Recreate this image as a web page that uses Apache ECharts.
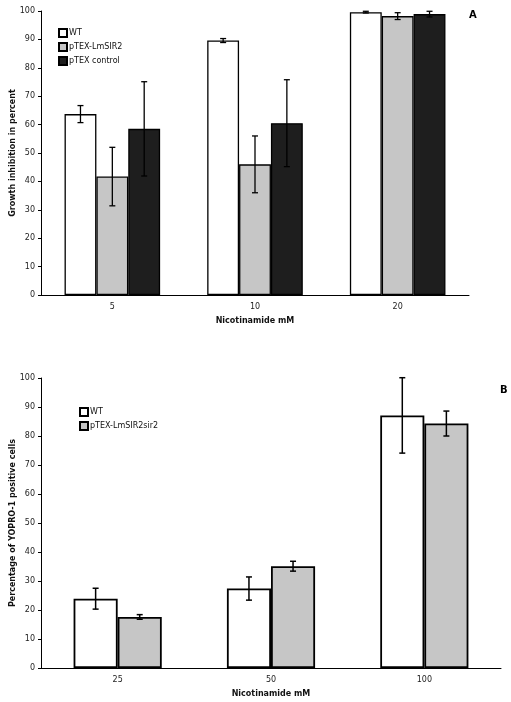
<!DOCTYPE html>
<html><head><meta charset="utf-8">
<script src="https://cdn.jsdelivr.net/npm/echarts@6/dist/echarts.min.js"></script>
<style>html,body{margin:0;padding:0;background:#fff}#c{width:511px;height:702px}</style>
</head><body><div id="c"></div>
<script>
// Panel A
const catsA = ['5', '10', '20'];
const seriesNamesA = ['WT', 'pTEX-LmSIR2', 'pTEX control'];
const wtA = [63.7, 89.6, 99.6];
const wtErrA = [3.0, 0.7, 0.3];
const sir2A = [41.7, 46.0, 98.2];
const sir2ErrA = [10.3, 10.0, 1.2];
const ctrlA = [58.5, 60.5, 98.9];
const ctrlErrA = [16.6, 15.3, 1.0];
// Panel B
const catsB = ['25', '50', '100'];
const seriesNamesB = ['WT', 'pTEX-LmSIR2sir2'];
const wtB = [23.9, 27.4, 87.1];
const wtErrB = [3.6, 4.0, 13.0];
const sir2B = [17.6, 35.1, 84.3];
const sir2ErrB = [0.8, 1.7, 4.3];
const yTicks = [0, 10, 20, 30, 40, 50, 60, 70, 80, 90, 100];

const FONT = 'DejaVu Sans';
const fills = ['#ffffff', '#c6c6c6', '#1e1e1e'];

function errSeries(vals, errs, idx, n, gap, axisIdx, lw) {
  return {
    type: 'custom', xAxisIndex: axisIdx, yAxisIndex: axisIdx, z: 10, silent: true,
    data: vals.map((v, i) => [i, v - errs[i], v + errs[i]]),
    encode: { x: 0, y: [1, 2] },
    renderItem: function (params, api) {
      const xi = api.value(0);
      const lo = api.coord([xi, api.value(1)]);
      const hi = api.coord([xi, api.value(2)]);
      const cw = api.size([1, 0])[0];
      const bw = cw * (1 - gap) / n;
      const cx = lo[0] + (idx - (n - 1) / 2) * bw;
      const cap = 3;
      const st = { stroke: '#000', lineWidth: lw };
      return { type: 'group', children: [
        { type: 'line', shape: { x1: cx, y1: lo[1], x2: cx, y2: hi[1] }, style: st },
        { type: 'line', shape: { x1: cx - cap, y1: lo[1], x2: cx + cap, y2: lo[1] }, style: st },
        { type: 'line', shape: { x1: cx - cap, y1: hi[1], x2: cx + cap, y2: hi[1] }, style: st }
      ]};
    }
  };
}

const gapA = 0.33, gapB = 0.425;
const axisLbl = { fontFamily: FONT, fontSize: 8, color: '#222' };
const nameSty = { fontFamily: FONT, fontSize: 8, fontWeight: 'bold', color: '#111' };
const legText = { fontFamily: FONT, fontSize: 8, color: '#111', padding: [0, 0, 0, -3] };

const chart = echarts.init(document.getElementById('c'), null, { renderer: 'canvas' });
chart.setOption({
  animation: false,
  backgroundColor: '#fff',
  title: [
    { text: 'A', left: 464, top: 5, textStyle: { fontFamily: FONT, fontSize: 10, fontWeight: 'bold', color: '#000' } },
    { text: 'B', left: 495, top: 380, textStyle: { fontFamily: FONT, fontSize: 10, fontWeight: 'bold', color: '#000' } }
  ],
  legend: [
    { data: seriesNamesA, orient: 'vertical', left: 53, top: 23, itemWidth: 8, itemHeight: 8, itemGap: 4, icon: 'rect',
      textStyle: legText },
    { data: seriesNamesB.map(n => n + ' '), orient: 'vertical', left: 74, top: 402, itemWidth: 8, itemHeight: 8, itemGap: 4, icon: 'rect',
      textStyle: legText }
  ],
  grid: [
    { left: 41, top: 11, right: 42, height: 284, containLabel: false, outerBoundsMode: 'none' },
    { left: 41, top: 378, right: 10, height: 290, containLabel: false, outerBoundsMode: 'none' }
  ],
  xAxis: [
    { type: 'category', data: catsA, gridIndex: 0,
      axisLine: { lineStyle: { color: '#000', width: 1 } }, axisTick: { length: 3, lineStyle: { color: '#000' } },
      axisLabel: Object.assign({ margin: 8 }, axisLbl), nameMoveOverlap: false,
      name: 'Nicotinamide mM', nameLocation: 'middle', nameGap: 22, nameTextStyle: nameSty },
    { type: 'category', data: catsB, gridIndex: 1,
      axisLine: { lineStyle: { color: '#000', width: 1 } }, axisTick: { length: 3, lineStyle: { color: '#000' } },
      axisLabel: Object.assign({ margin: 8 }, axisLbl), nameMoveOverlap: false,
      name: 'Nicotinamide mM', nameLocation: 'middle', nameGap: 22, nameTextStyle: nameSty }
  ],
  yAxis: [0, 1].map(g => ({
    type: 'value', gridIndex: g, min: yTicks[0], max: yTicks[yTicks.length - 1], interval: 10,
    splitLine: { show: false },
    axisLine: { show: true, lineStyle: { color: '#000', width: 1 } },
    axisTick: { show: true, length: 3, lineStyle: { color: '#000' } },
    axisLabel: Object.assign({ margin: 6 }, axisLbl),
    name: g === 0 ? 'Growth inhibition in percent' : 'Percentage of YOPRO-1 positive cells',
    nameLocation: 'middle', nameRotate: 90, nameGap: 24, nameMoveOverlap: false, nameTextStyle: nameSty
  })),
  series: [
    { name: seriesNamesA[0], type: 'bar', data: wtA, xAxisIndex: 0, yAxisIndex: 0, barGap: '0%', barCategoryGap: '33%',
      itemStyle: { color: fills[0], borderColor: '#000', borderWidth: 1.3 } },
    { name: seriesNamesA[1], type: 'bar', data: sir2A, xAxisIndex: 0, yAxisIndex: 0, barGap: '0%', barCategoryGap: '33%',
      itemStyle: { color: fills[1], borderColor: '#000', borderWidth: 1.3 } },
    { name: seriesNamesA[2], type: 'bar', data: ctrlA, xAxisIndex: 0, yAxisIndex: 0, barGap: '0%', barCategoryGap: '33%',
      itemStyle: { color: fills[2], borderColor: '#000', borderWidth: 1.3 } },
    errSeries(wtA, wtErrA, 0, 3, gapA, 0, 1.3),
    errSeries(sir2A, sir2ErrA, 1, 3, gapA, 0, 1.3),
    errSeries(ctrlA, ctrlErrA, 2, 3, gapA, 0, 1.3),
    { name: seriesNamesB[0] + ' ', type: 'bar', data: wtB, xAxisIndex: 1, yAxisIndex: 1, barGap: '0%', barCategoryGap: '42.5%',
      itemStyle: { color: fills[0], borderColor: '#000', borderWidth: 1.8 } },
    { name: seriesNamesB[1] + ' ', type: 'bar', data: sir2B, xAxisIndex: 1, yAxisIndex: 1, barGap: '0%', barCategoryGap: '42.5%',
      itemStyle: { color: fills[1], borderColor: '#000', borderWidth: 1.8 } },
    errSeries(wtB, wtErrB, 0, 2, gapB, 1, 1.5),
    errSeries(sir2B, sir2ErrB, 1, 2, gapB, 1, 1.5)
  ]
});
</script></body></html>
